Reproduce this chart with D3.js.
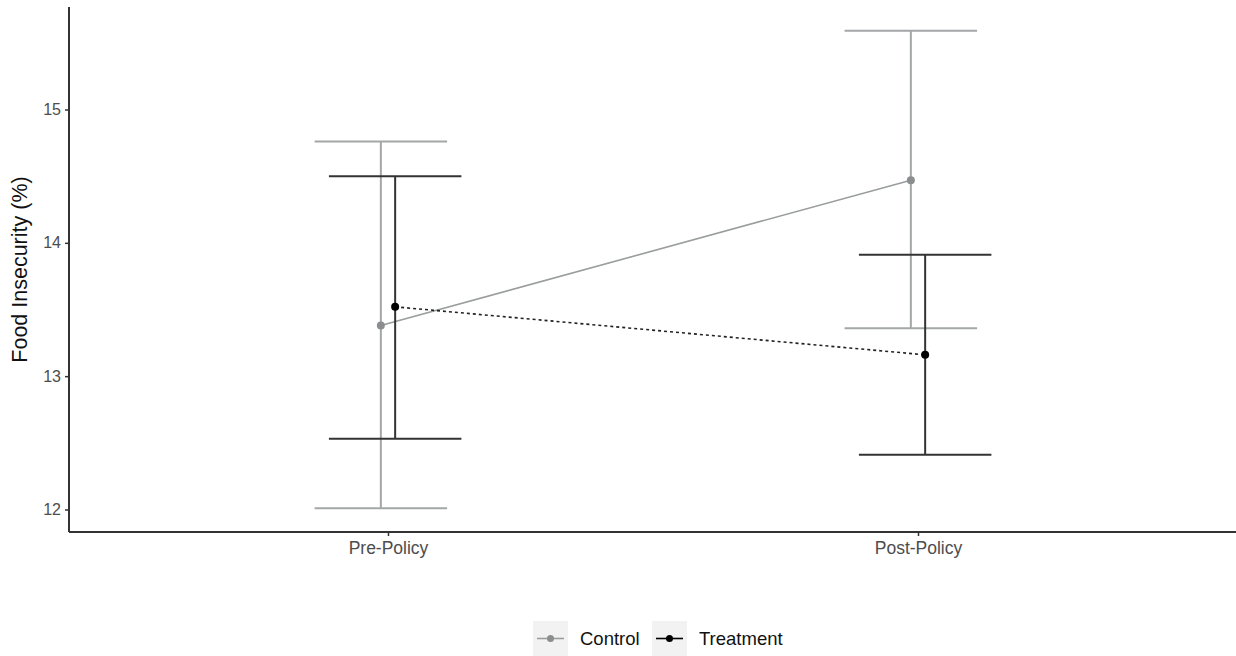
<!DOCTYPE html>
<html>
<head>
  <meta charset="utf-8">
  <title>Food Insecurity Pre/Post Policy</title>
  <script src="https://cdn.jsdelivr.net/npm/d3@7/dist/d3.min.js"></script>
  <style>
    body { margin: 0; background: #fff; }
    svg { display: block; font-family: "Liberation Sans", Arial, sans-serif; }
  </style>
</head>
<body>
  <svg width="1236" height="656"></svg>

  <script>
    // data
    const periods = ["Pre-Policy", "Post-Policy"];
    const groups = ["Control", "Treatment"];
    const controlMean = [13.38, 14.47];
    const controlLow = [12.01, 13.36];
    const controlHigh = [14.76, 15.59];
    const treatMean = [13.52, 13.16];
    const treatLow = [12.53, 12.41];
    const treatHigh = [14.50, 13.91];
    const yTicks = [12, 13, 14, 15];

    const svg = d3.select("svg");
    const margin = { top: 7, right: 0, bottom: 124, left: 69 };
    const width = +svg.attr("width");
    const height = +svg.attr("height");

    // discrete x as ggplot does: positions 1..n, expanded by 0.6
    const x = d3.scaleLinear()
      .domain([0.4, periods.length + 0.6])
      .range([margin.left + 1, width - margin.right]);

    const allVals = controlLow.concat(controlHigh, treatLow, treatHigh);
    const yMin = d3.min(allVals), yMax = d3.max(allVals);
    const pad = (yMax - yMin) * 0.05;
    const y = d3.scaleLinear()
      .domain([yMin - pad, yMax + pad])
      .range([height - margin.bottom, margin.top]);

    const dodge = 0.0135;  // in x units
    const capHalf = 0.125;

    const series = [
      { name: groups[0], mean: controlMean, low: controlLow, high: controlHigh,
        off: -dodge, bar: "#a3a7a7", line: "#9a9d9d", pt: "#8a8e8e", dash: null },
      { name: groups[1], mean: treatMean, low: treatLow, high: treatHigh,
        off: dodge, bar: "#333333", line: "#222222", pt: "#000000", dash: "3,3" }
    ];

    const g = svg.append("g");

    series.forEach(s => {
      const pts = periods.map((p, i) => ({
        x: i + 1 + s.off, m: s.mean[i], lo: s.low[i], hi: s.high[i]
      }));

      // error bars
      const eb = g.append("g");
      pts.forEach(d => {
        eb.append("line")
          .attr("x1", x(d.x)).attr("x2", x(d.x))
          .attr("y1", y(d.lo)).attr("y2", y(d.hi))
          .attr("stroke", s.bar).attr("stroke-width", 2);
        [d.lo, d.hi].forEach(v => {
          eb.append("line")
            .attr("x1", x(d.x - capHalf)).attr("x2", x(d.x + capHalf))
            .attr("y1", y(v)).attr("y2", y(v))
            .attr("stroke", s.bar).attr("stroke-width", 2);
        });
      });

      // connecting line
      g.append("path")
        .datum(pts)
        .attr("fill", "none")
        .attr("stroke", s.line)
        .attr("stroke-width", 1.6)
        .attr("stroke-dasharray", s.dash)
        .attr("d", d3.line().x(d => x(d.x)).y(d => y(d.m)));

      g.selectAll(null)
        .data(pts)
        .enter()
        .append("circle")
        .attr("cx", d => x(d.x))
        .attr("cy", d => y(d.m))
        .attr("r", 4)
        .attr("fill", s.pt);
    });

    // axes
    const yAxis = d3.axisLeft(y).tickValues(yTicks).tickFormat(d3.format("d"))
      .tickSize(4).tickPadding(4);
    const yg = svg.append("g")
      .attr("transform", `translate(${margin.left},0)`)
      .call(yAxis);

    const xAxis = d3.axisBottom(x)
      .tickValues(periods.map((p, i) => i + 1))
      .tickFormat((d, i) => periods[i])
      .tickSize(4).tickPadding(6);
    const xg = svg.append("g")
      .attr("transform", `translate(0,${height - margin.bottom})`)
      .call(xAxis);

    [yg, xg].forEach(a => {
      a.select(".domain").attr("stroke", "#333").attr("stroke-width", 2);
      a.selectAll(".tick line").attr("stroke", "#333").attr("stroke-width", 1.5);
      a.selectAll(".tick text").attr("fill", "#4d4d4d")
        .style("font-family", "'Liberation Sans', Arial, sans-serif");
    });
    yg.selectAll(".tick text").style("font-size", "16px");
    xg.selectAll(".tick text").style("font-size", "17.5px");
    // plain axis lines without end hooks
    yg.select(".domain").attr("d", `M0,${height - margin.bottom}V${margin.top}`);
    xg.select(".domain").attr("d", `M${margin.left},0H${width - margin.right}`);

    svg.append("text")
      .attr("transform", `translate(27,${(margin.top + height - margin.bottom) / 2}) rotate(-90)`)
      .attr("text-anchor", "middle")
      .style("font-size", "21.5px")
      .attr("fill", "#111")
      .text("Food Insecurity (%)");

    // legend
    const legend = svg.append("g").attr("transform", "translate(533,621)");
    const keyW = 35;
    const legendX = [0, 119];
    series.forEach((s, i) => {
      const lg = legend.append("g").attr("transform", `translate(${legendX[i]},0)`);
      lg.append("rect").attr("width", keyW).attr("height", keyW).attr("fill", "#f2f2f2");
      lg.append("line")
        .attr("x1", 4).attr("x2", keyW - 4)
        .attr("y1", keyW / 2).attr("y2", keyW / 2)
        .attr("stroke", i === 0 ? s.line : "#000").attr("stroke-width", 1.6);
      lg.append("circle").attr("cx", keyW / 2).attr("cy", keyW / 2).attr("r", 3.5).attr("fill", s.pt);
      lg.append("text")
        .attr("x", keyW + 12).attr("y", keyW / 2)
        .attr("dy", "0.35em")
        .style("font-size", "18.5px")
        .attr("fill", "#111")
        .text(s.name);
    });
  </script>
</body>
</html>
